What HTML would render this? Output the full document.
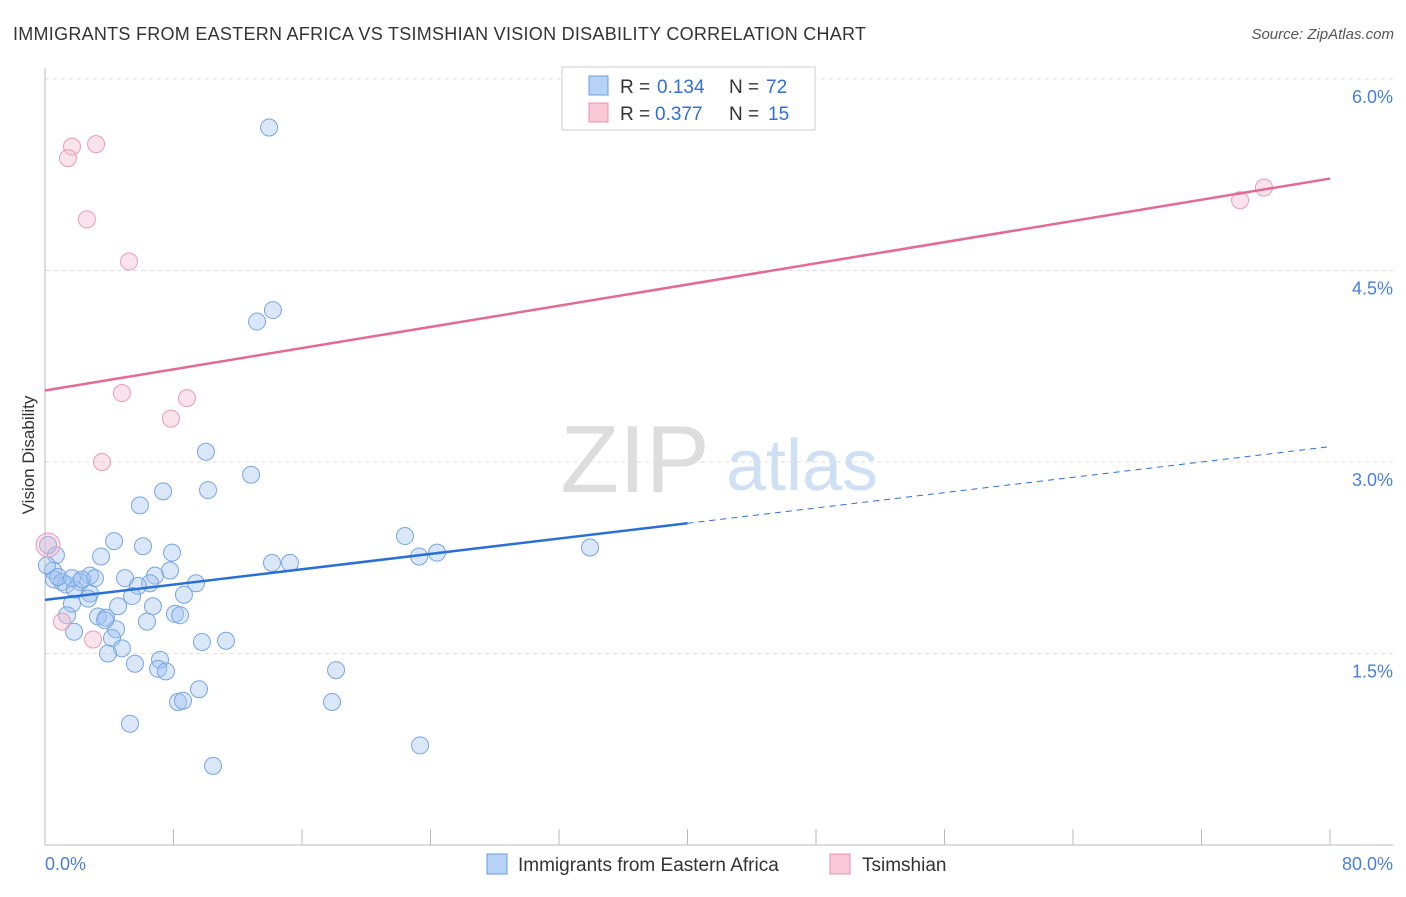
<!DOCTYPE html>
<html><head><meta charset="utf-8"><style>
body{margin:0;background:#fff;font-family:"Liberation Sans",sans-serif}
svg text{font-family:"Liberation Sans",sans-serif}
</style></head><body>
<svg id="chart" width="1406" height="892" viewBox="0 0 1406 892" xmlns="http://www.w3.org/2000/svg">
<text x="13" y="40" font-size="18" fill="#333" textLength="853">IMMIGRANTS FROM EASTERN AFRICA VS TSIMSHIAN VISION DISABILITY CORRELATION CHART</text>
<text x="1394" y="39" font-size="15" fill="#555" text-anchor="end" font-style="italic">Source: ZipAtlas.com</text>
<text x="635" y="492" font-size="96" fill="#ddd" font-family="Liberation Serif,serif" text-anchor="middle">ZIP</text>
<text x="802" y="490" font-size="72" fill="#cfe0f5" text-anchor="middle">atlas</text>
<text transform="translate(34,455) rotate(-90)" font-size="17" fill="#333" text-anchor="middle">Vision Disability</text>
<text x="45" y="870" font-size="18" fill="#4a7fd8">0.0%</text>
<text x="1393" y="870" font-size="18" fill="#4a7fd8" text-anchor="end">80.0%</text>
<g id="grid"></g><g id="marks"></g>
<g>
<rect x="562" y="67" width="253" height="63" fill="#fff" stroke="#ccc"/>
<rect x="589" y="76" width="19" height="19" fill="#b6d2f5" stroke="#6a9be0"/>
<rect x="589" y="103" width="19" height="19" fill="#f9c9d8" stroke="#e890ad"/>
<text x="620" y="93" font-size="19" fill="#333">R =</text>
<text x="657" y="93" font-size="19" fill="#2f6fd6">0.134</text>
<text x="729" y="93" font-size="19" fill="#333">N =</text>
<text x="766" y="93" font-size="19" fill="#2f6fd6">72</text>
<text x="620" y="120" font-size="19" fill="#333">R =</text>
<text x="655" y="120" font-size="19" fill="#2f6fd6">0.377</text>
<text x="729" y="120" font-size="19" fill="#333">N =</text>
<text x="768" y="120" font-size="19" fill="#2f6fd6">15</text>
</g>
<g>
<rect x="487" y="854" width="20" height="20" fill="#b6d2f5" stroke="#6a9be0"/>
<text x="518" y="871" font-size="19" fill="#333">Immigrants from Eastern Africa</text>
<rect x="830" y="854" width="20" height="20" fill="#f9c9d8" stroke="#e890ad"/>
<text x="862" y="871" font-size="19" fill="#333">Tsimshian</text>
</g>
</svg>
<script>
const blueX=[13.95,14.19,13.20,10.02,12.83,7.35,10.15,5.91,22.41,4.30,6.10,7.91,33.93,24.41,23.29,3.49,0.68,14.13,15.25,0.50,7.78,2.80,4.98,3.11,6.85,6.54,0.56,1.06,2.18,1.31,9.40,1.87,5.79,2.80,5.42,8.65,1.68,2.68,4.55,6.72,1.37,3.30,3.80,8.09,8.41,6.35,4.42,1.81,4.17,11.27,9.77,4.79,3.92,7.16,5.60,18.12,7.04,7.53,9.59,8.28,8.59,17.87,5.29,23.35,10.46,0.12,0.19,0.81,1.68,2.30,3.74];
const blueY=[5.62,4.19,4.10,3.08,2.90,2.77,2.78,2.66,2.42,2.38,2.34,2.29,2.33,2.29,2.26,2.26,2.27,2.21,2.21,2.15,2.15,2.11,2.09,2.09,2.11,2.05,2.08,2.06,2.06,2.04,2.05,2.00,2.03,1.97,1.95,1.96,1.89,1.93,1.87,1.87,1.80,1.79,1.78,1.81,1.80,1.75,1.69,1.67,1.62,1.60,1.59,1.54,1.50,1.45,1.42,1.37,1.38,1.36,1.22,1.12,1.13,1.12,0.95,0.78,0.62,2.19,2.35,2.10,2.09,2.08,1.76];
const pinkX=[3.18,1.68,1.43,2.61,5.23,4.79,8.84,7.84,3.55,0.19,1.06,2.99,74.40,75.89];
const pinkY=[5.49,5.47,5.38,4.90,4.57,3.54,3.50,3.34,3.00,2.35,1.75,1.61,5.05,5.15];
const yTicks=[1.5,3.0,4.5,6.0];
const xTicks=[0,8,16,24,32,40,48,56,64,72,80];
const blueTrend=[1.92,3.12]; const blueSolidEnd=40;
const pinkTrend=[3.56,5.22];
const NS="http://www.w3.org/2000/svg";
const sx=v=>45+v/80*1285, sy=v=>845-v*127.67;
function mk(tag,attrs,parent){const e=document.createElementNS(NS,tag);for(const k in attrs)e.setAttribute(k,attrs[k]);parent.appendChild(e);return e;}
const grid=document.getElementById('grid'), marks=document.getElementById('marks');
yTicks.forEach(t=>{
 const l=mk('line',{x1:45,x2:1393,y1:sy(t),y2:sy(t),stroke:'#ddd','stroke-dasharray':'4,4'},grid);
 
 
 const tx=mk('text',{x:1393,y:sy(t)+24,'font-size':18,fill:'#4a7fd8','text-anchor':'end'},grid);
 tx.textContent=t.toFixed(1)+'%';
 
 
});
let ax=mk('line',{x1:45,x2:1393,y1:845,y2:845,stroke:'#bbb'},grid);


let ay=mk('line',{x1:45,x2:45,y1:68,y2:845,stroke:'#bbb'},grid);


xTicks.forEach(t=>{
 const l=mk('line',{x1:sx(t),x2:sx(t),y1:829,y2:845,stroke:'#bbb'},grid);
 
 
});
blueX.forEach((x,i)=>{
 const c=mk('circle',{cx:sx(x),cy:sy(blueY[i]),r:8.5,fill:'rgba(160,196,240,0.4)',stroke:'#78a5e4','stroke-width':1},marks);
 
 
});
pinkX.forEach((x,i)=>{
 const c=mk('circle',{cx:sx(x),cy:sy(pinkY[i]),r:i==9?12:8.5,fill:'rgba(245,185,205,0.4)',stroke:'#eb9ab5','stroke-width':1},marks);
 
 
});
const by=x=>blueTrend[0]+(blueTrend[1]-blueTrend[0])*x/80;
let b1=mk('line',{x1:sx(0),y1:sy(by(0)),x2:sx(blueSolidEnd),y2:sy(by(blueSolidEnd)),stroke:'#2a6fd6','stroke-width':2.5},marks);


let b2=mk('line',{x1:sx(blueSolidEnd),y1:sy(by(blueSolidEnd)),x2:sx(80),y2:sy(by(80)),stroke:'#2a6fd6','stroke-width':1,'stroke-dasharray':'6,5'},marks);


let p1=mk('line',{x1:sx(0),y1:sy(pinkTrend[0]),x2:sx(80),y2:sy(pinkTrend[1]),stroke:'#e46a94','stroke-width':2.5},marks);


</script>
</body></html>
